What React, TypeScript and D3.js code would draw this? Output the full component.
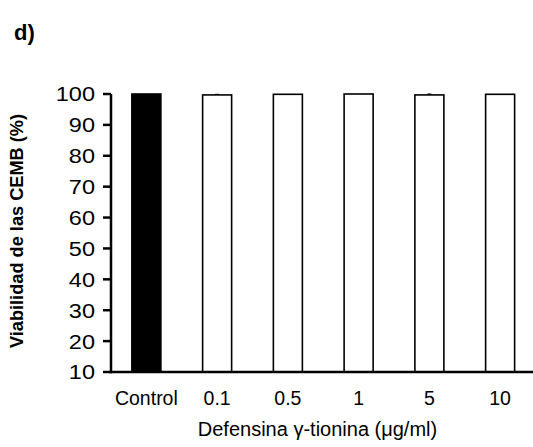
import React from "react";
import * as d3 from "d3";

const categories = ["Control", "0.1", "0.5", "1", "5", "10"];
const values = [100, 99.7, 99.9, 100, 99.7, 99.9];
const errors = [0, 0.2, 0, 0, 0.3, 0];
const yTicks = [10, 20, 30, 40, 50, 60, 70, 80, 90, 100];

const W = 533;
const H = 447;
const FONT = "'Liberation Sans', Arial, sans-serif";

export default function App() {
  const x = d3.scaleBand<string>().domain(categories).range([111, 535.5]).paddingInner(0.59).paddingOuter(0.295);
  const y = d3.scaleLinear().domain([10, 100]).range([372, 94]);
  const axisX = 111;
  return (
    <svg width={W} height={H} style={{ position: "absolute", left: 0, top: 0 }} fontFamily={FONT}>
      <rect width={W} height={H} fill="#fff" />
      <text x={14} y={40} fontSize={22} fontWeight="bold">d)</text>
      {categories.map((c, i) => {
        const x0 = x(c)!;
        const bw = x.bandwidth();
        const top = y(values[i]);
        return (
          <g key={c}>
            <rect x={x0} y={top} width={bw} height={y(10) - top}
              fill={i === 0 ? "#000" : "#fff"} stroke="#000" strokeWidth={1.6} />
            {errors[i] > 0 && (
              <g stroke="#000" strokeWidth={1}>
                <line x1={x0 + bw / 2} x2={x0 + bw / 2} y1={top} y2={y(values[i] + errors[i])} />
                <line x1={x0 + bw / 2 - 2} x2={x0 + bw / 2 + 2} y1={y(values[i] + errors[i])} y2={y(values[i] + errors[i])} />
              </g>
            )}
            <text x={x0 + bw / 2} y={405} fontSize={19.5} textAnchor="middle">{c}</text>
          </g>
        );
      })}
      <line x1={axisX} x2={axisX} y1={y(100)} y2={y(10) + 1.25} stroke="#000" strokeWidth={2.5} />
      <line x1={axisX - 1.25} x2={W} y1={y(10)} y2={y(10)} stroke="#000" strokeWidth={2.5} />
      {yTicks.map((t) => (
        <g key={t}>
          <line x1={axisX - 8} x2={axisX} y1={y(t)} y2={y(t)} stroke="#000" strokeWidth={2.5} />
          <text x={95} y={y(t) + 7.5} fontSize={21} textAnchor="end" transform={`translate(95,0) scale(1.12,1) translate(-95,0)`}>{t}</text>
        </g>
      ))}
      <text transform={`translate(23,231) rotate(-90)`} fontSize={18.2} fontWeight="bold" textAnchor="middle">
        Viabilidad de las CEMB (%)
      </text>
      <text x={317.5} y={436} fontSize={20} textAnchor="middle">Defensina γ-tionina (μg/ml)</text>
    </svg>
  );
}
